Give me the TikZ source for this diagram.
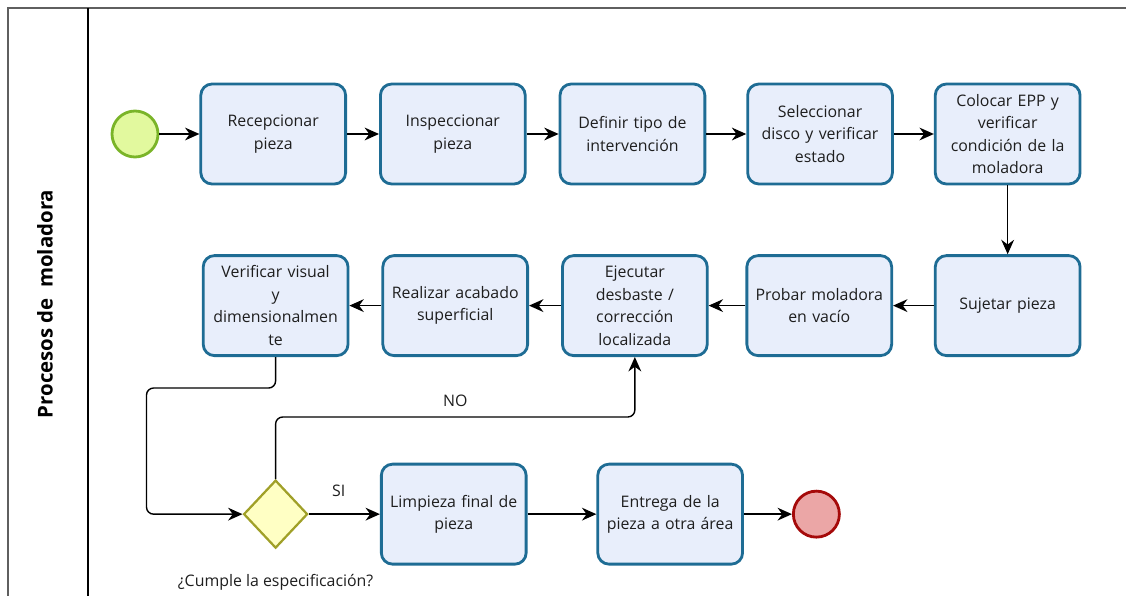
\documentclass[tikz,border=0pt]{standalone}
\usepackage{fontspec}
\setmainfont{Open Sans}
\usetikzlibrary{positioning,arrows.meta,calc,shapes.geometric}
\definecolor{TaskBlue}{RGB}{30,108,148}
\definecolor{TaskFill}{RGB}{232,238,251}
\definecolor{StartGreen}{RGB}{122,180,40}
\definecolor{StartFill}{RGB}{226,249,158}
\definecolor{EndRed}{RGB}{165,10,10}
\definecolor{EndFill}{RGB}{235,166,166}
\definecolor{GateOlive}{RGB}{160,160,40}
\definecolor{GateFill}{RGB}{255,255,196}
\definecolor{LaneGray}{RGB}{95,95,95}
\definecolor{InkDark}{RGB}{30,30,30}
\tikzset{
  flow/.style={-{Stealth[length=3.6mm,width=3.2mm]},line width=1pt,draw=black},
  loopflow/.style={-{Stealth[length=3.6mm,width=3.2mm]},line width=1pt,draw=black,rounded corners=5pt},
  task/.style={draw=TaskBlue,fill=TaskFill,line width=2pt,rounded corners=8pt,
    minimum width=3.62cm,minimum height=2.5cm,text width=3.3cm,align=center,
    text=InkDark,font=\fontsize{11.3}{16}\selectfont},
  startev/.style={circle,draw=StartGreen,fill=StartFill,line width=2pt,
    minimum size=1.15cm,inner sep=0pt},
  endev/.style={circle,draw=EndRed,fill=EndFill,line width=2pt,
    minimum size=1.15cm,inner sep=0pt},
  gateway/.style={diamond,draw=GateOlive,fill=GateFill,line width=1.6pt,
    minimum width=1.6cm,minimum height=1.7cm,inner sep=0pt},
  lbl/.style={text=InkDark,font=\fontsize{11.3}{16}\selectfont}
}
\begin{document}
\begin{tikzpicture}
  \useasboundingbox (0,0) rectangle (28.15,-14.9);
  % lane
  \draw[LaneGray,line width=2pt] (0.2,-14.9) -- (0.2,-0.2) -- (28.15,-0.2);
  \draw[black,line width=0.9pt] (2.2,-0.2) -- (2.2,-14.9);
  \node[rotate=90,text=black,font=\bfseries\fontsize{14.5}{16}\selectfont] (lane) at (1.125,-7.6) {Procesos de\ \ moladora};
  % first row
  \node[startev] (start) at (3.375,-3.35) {};
  \node[task,right=1.0cm of start] (recep) {Recepcionar\\pieza};
  \node[task,right=0.8cm of recep] (insp) {Inspeccionar\\pieza};
  \node[task,right=0.8cm of insp] (tipo) {Definir tipo de\\intervención};
  \node[task,right=1.0cm of tipo] (disco) {Seleccionar\\disco y verificar\\estado};
  \node[task,right=1.0cm of disco] (epp) {Colocar EPP y\\verificar\\condición de la\\moladora};
  % second row
  \node[task,below=1.72cm of epp] (sujetar) {Sujetar pieza};
  \node[task,left=1.02cm of sujetar] (probar) {Probar moladora\\en vacío};
  \node[task,left=0.92cm of probar] (ejec) {Ejecutar\\desbaste /\\corrección\\localizada};
  \node[task,left=0.8cm of ejec] (acabado) {Realizar acabado\\superficial};
  \node[task,left=0.8cm of acabado] (verif) {Verificar visual\\y\\dimensionalmen\\te};
  % third row
  \node[gateway,below=3.05cm of verif] (gate) {};
  \node[lbl,below=0.5cm of gate] (gatelbl) {¿Cumple la especificación?};
  \node[task,right=1.78cm of gate] (limp) {Limpieza final de\\pieza};
  \node[task,right=1.72cm of limp] (entrega) {Entrega de la\\pieza a otra área};
  \node[endev,right=1.2cm of entrega] (fin) {};
  \coordinate (loopL) at ($(gate.west)+(-2.4,0)$);
  % connectors
  \draw[flow] (start) -- (recep);
  \draw[flow] (recep) -- (insp);
  \draw[flow] (insp) -- (tipo);
  \draw[flow] (tipo) -- (disco);
  \draw[flow] (disco) -- (epp);
  \draw[flow] (epp) -- (sujetar);
  \draw[flow] (sujetar) -- (probar);
  \draw[flow] (probar) -- (ejec);
  \draw[flow] (ejec) -- (acabado);
  \draw[flow] (acabado) -- (verif);
  \draw[loopflow] (verif.south) -- ++(0,-0.775) -| (loopL) -- (gate.west);
  \draw[loopflow] (gate.north) -- ++(0,1.55) -| (ejec.south)
    node[lbl,pos=0.25,above=0.12cm] (nolbl) {NO};
  \draw[flow] (gate) -- (limp) node[lbl,pos=0.42,above=0.3cm] (silbl) {SI};
  \draw[flow] (limp) -- (entrega);
  \draw[flow] (entrega) -- (fin);
\end{tikzpicture}
\end{document}
